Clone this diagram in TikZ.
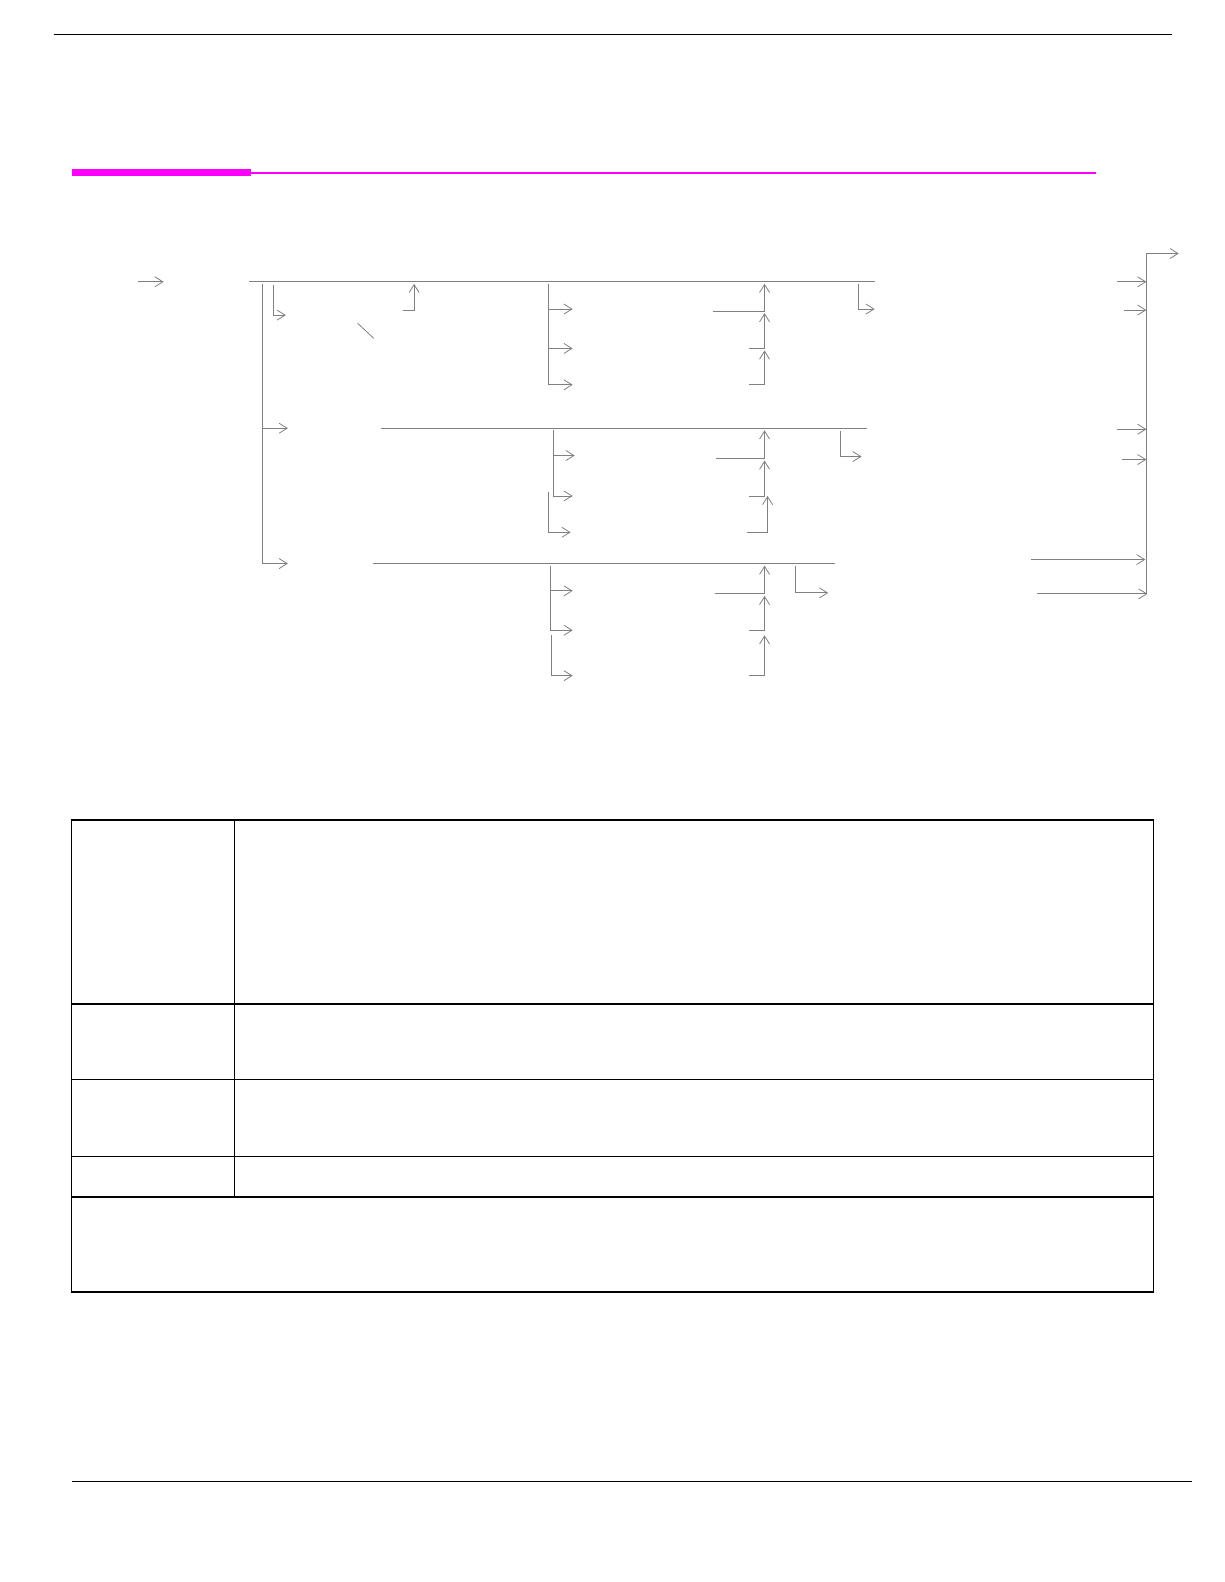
\documentclass[tikz,border=0pt]{standalone}
\usetikzlibrary{arrows.meta}
\definecolor{wiregray}{RGB}{128,128,128}
\definecolor{barmagenta}{RGB}{255,0,255}
\begin{document}
\begin{tikzpicture}[x=1.01pt,y=-1.01pt,
  wire/.style={draw=wiregray,line width=0.8pt},
  feed/.style={wire,-{Straight Barb[length=8pt,width=10pt]}},
  rule/.style={draw=black,line width=1.3pt},
  grid/.style={draw=black,line width=1.5pt}]
\useasboundingbox (0,0) rectangle (1211.88,1566.34);

% page rules
\draw[rule] (53,34) -- (1160,34);
\fill[barmagenta] (71,167.5) rectangle (249,174.5);
\draw[barmagenta,line width=2pt] (249,171) -- (1085,171);
\draw[rule] (71,1467) -- (1180,1467);

% buses
\coordinate (bus1w) at (247,279); \coordinate (bus1e) at (866,279);
\coordinate (bus2w) at (377,424); \coordinate (bus2e) at (858,424);
\coordinate (bus3w) at (369,558); \coordinate (bus3e) at (827,558);
\path[wire] (bus1w) -- (bus1e);
\path[wire] (bus2w) -- (bus2e);
\path[wire] (bus3w) -- (bus3e);
\path[feed] (137,279) -- (162,279);

% trunk on the left
\coordinate (trunk) at (260,281);
\path[wire] (trunk) -- (260,558);
\path[feed] (260,424) -- (285,424);
\path[feed] (260,558) -- (285,558);
\path[feed] (271,282) -- (271,312) -- (283,312);
\path[wire] (354,320) -- (370,335);
\path[feed] (399,307) -- (410,307) -- (410,281);

% first row
\path[wire] (543,281) -- (543,381);
\foreach \y in {306,345,381}
  \path[feed] (543,\y) -- (567,\y);
\path[feed] (706,308) -- (757,308) -- (757,281);
\path[feed] (742,345) -- (757,345) -- (757,310);
\path[feed] (742,381) -- (757,381) -- (757,347);
\path[feed] (850,281) -- (850,306) -- (866,306);

% second row
\path[wire] (548,426) -- (548,491);
\path[wire] (543,487) -- (543,527);
\path[feed] (548,451) -- (569,451);
\path[feed] (548,491) -- (567,491);
\path[feed] (543,527) -- (565,527);
\path[feed] (709,454) -- (757,454) -- (757,426);
\path[feed] (742,491) -- (757,491) -- (757,456);
\path[feed] (740,527) -- (760,527) -- (760,491);
\path[feed] (832,427) -- (832,452) -- (853,452);

% third row
\path[wire] (545,560) -- (545,624);
\path[wire] (546,629) -- (546,669);
\foreach \y in {585,624}
  \path[feed] (545,\y) -- (567,\y);
\path[feed] (546,669) -- (567,669);
\path[feed] (708,588) -- (757,588) -- (757,560);
\path[feed] (742,624) -- (757,624) -- (757,590);
\path[feed] (742,669) -- (757,669) -- (757,629);
\path[feed] (788,560) -- (788,587) -- (820,587);

% collector on the right
\coordinate (colN) at (1135,251);
\coordinate (colS) at (1135,588);
\path[wire] (colN) -- (colS);
\path[feed] (colN) -- (1167,251);
\path[feed] (1106,279) -- (1135,279);
\path[feed] (1113,307) -- (1135,307);
\path[feed] (1106,425) -- (1135,425);
\path[feed] (1111,455) -- (1135,455);
\path[feed] (1021,554) -- (1134,554);
\path[feed] (1027,588) -- (1136,588);

% table
\draw[grid] (71,812) rectangle (1142,1279);
\draw[grid] (232,812) -- (232,1185);
\foreach \y in {994,1069,1145,1185}
  \draw[grid] (71,\y) -- (1142,\y);
\end{tikzpicture}
\end{document}
